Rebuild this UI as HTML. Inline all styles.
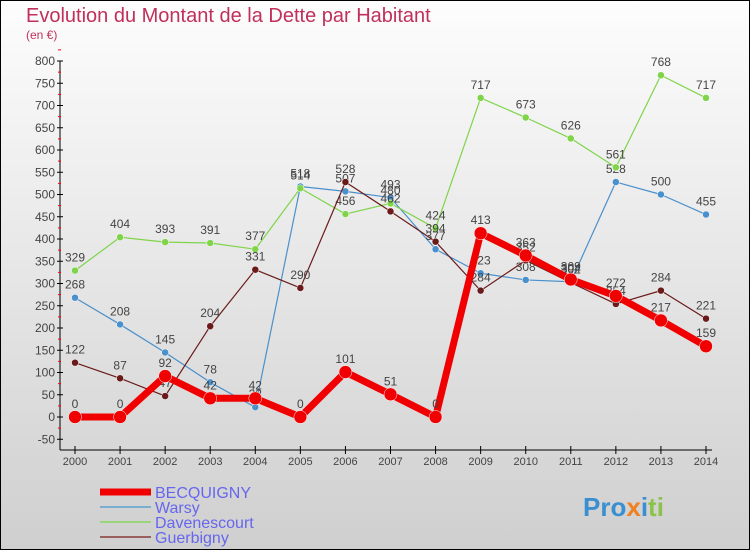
<!DOCTYPE html>
<html><head><meta charset="utf-8"><style>
body{margin:0;width:750px;height:550px;overflow:hidden}
svg{display:block;font-family:"Liberation Sans",sans-serif}
</style></head><body>
<svg id="c" width="750" height="550" xmlns="http://www.w3.org/2000/svg">
<defs><linearGradient id="bg" x1="0" y1="0" x2="0" y2="1"><stop offset="0" stop-color="#fdfdfd"/><stop offset="1" stop-color="#cfcfcf"/></linearGradient></defs>
<rect x="0.5" y="0.5" width="749" height="549" fill="url(#bg)" stroke="#000"/>
<text x="26" y="22" font-size="20" fill="#c0305a">Evolution du Montant de la Dette par Habitant</text>
<text x="26" y="39" font-size="12" fill="#c0305a">(en €)</text>
<g id="axes"></g><g id="series"></g><g id="legend"></g>
</svg>
<script>
const years=[2000,2001,2002,2003,2004,2005,2006,2007,2008,2009,2010,2011,2012,2013,2014];
const becquigny=[0,0,92,42,42,0,101,51,0,413,363,309,272,217,159];
const warsy=[268,208,145,78,22,518,507,493,377,323,308,304,528,500,455];
const davenescourt=[329,404,393,391,377,514,456,480,424,717,673,626,561,768,717];
const guerbigny=[122,87,47,204,331,290,528,462,394,284,352,302,254,284,221];
const yTicks=[-50,0,50,100,150,200,250,300,350,400,450,500,550,600,650,700,750,800];
const NS="http://www.w3.org/2000/svg";
const X=i=>75+i*(706-75)/14;
const Y=v=>417-v*0.445;
function mk(t,a,p){const e=document.createElementNS(NS,t);for(const k in a)e.setAttribute(k,a[k]);p.appendChild(e);return e;}
const ax=document.getElementById('axes');
const yl=mk('line',{x1:60,y1:Y(800),x2:60,y2:450,stroke:'#000'},ax);


const xl=mk('line',{x1:60,y1:450,x2:712,y2:450,stroke:'#000'},ax);


yTicks.forEach(v=>{
  mk('line',{x1:57,y1:Y(v),x2:63,y2:Y(v),stroke:'#000'},ax);
  mk('line',{x1:58,y1:Y(v+25),x2:61,y2:Y(v+25),stroke:'#f00'},ax);
  const t=mk('text',{x:55,y:Y(v)+4,'font-size':12,fill:'#444','text-anchor':'end'},ax);
  t.textContent=v;
  
  
});
years.forEach((yr,i)=>{
  mk('line',{x1:X(i),y1:446,x2:X(i),y2:454,stroke:'#000'},ax);
  const t=mk('text',{x:X(i),y:465,'font-size':11,fill:'#444','text-anchor':'middle'},ax);
  t.textContent=yr;
  
  
});
const sg=document.getElementById('series');
const defs=[
 {n:'warsy',d:warsy,c:'#4a90cc',w:1.2,r:3.5},
 {n:'davenescourt',d:davenescourt,c:'#7fd44a',w:1.2,r:3.5},
 {n:'guerbigny',d:guerbigny,c:'#6b1a1a',w:1.2,r:3.5},
 {n:'becquigny',d:becquigny,c:'#f00000',w:7,r:6.5}];
defs.forEach(s=>{
  const g=mk('g',{},sg);
  
  
  const pl=mk('polyline',{points:s.d.map((v,i)=>X(i)+','+Y(v)).join(' '),fill:'none',stroke:s.c,'stroke-width':s.w,'stroke-linejoin':'round'},g);
  
  
  s.d.forEach((v,i)=>{
    const c=mk('circle',{cx:X(i),cy:Y(v),r:s.r,fill:s.c,stroke:'#fff','stroke-width':0.5},g);
    
    
    const t=mk('text',{x:X(i),y:Y(v)-9,'font-size':12,fill:'#444','text-anchor':'middle'},g);
    t.textContent=v;
    
    
  });
});
const lg=document.getElementById('legend');
const items=[['BECQUIGNY','#f00000',7],['Warsy','#7aaed0',2],['Davenescourt','#9ad57a',2],['Guerbigny','#9a6060',2]];
items.forEach((it,k)=>{
  const y=492+k*15;
  const g=mk('g',{},lg);
  
  
  mk('line',{x1:100,y1:y,x2:151,y2:y,stroke:it[1],'stroke-width':it[2]},g);
  const t=mk('text',{x:155,y:y+6,'font-size':16,fill:'#6666ee'},g);
  t.textContent=it[0];
});
const logo=mk('text',{x:583,y:516,'font-size':26,'font-weight':'bold',fill:'#3a8fd0'},lg);
logo.innerHTML='<tspan fill="#3a8fd0">Pro</tspan><tspan fill="#f08020">x</tspan><tspan fill="#3a8fd0">i</tspan><tspan fill="#8bc34a">ti</tspan>';


</script>
</body></html>
